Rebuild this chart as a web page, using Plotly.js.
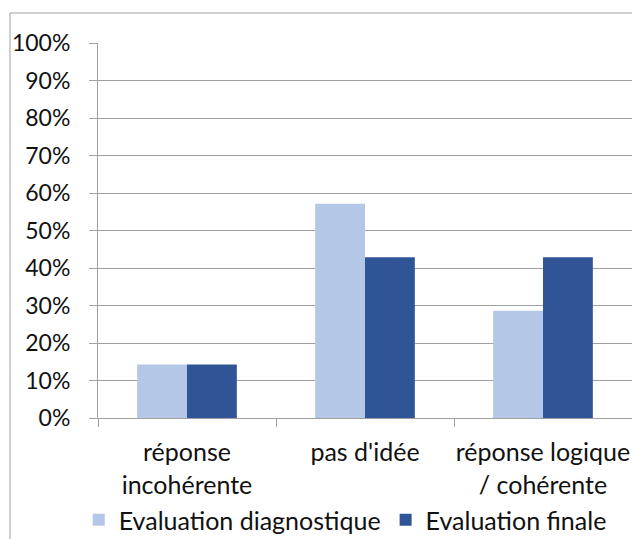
<!DOCTYPE html>
<html>
<head>
<meta charset="utf-8">
<script src="https://cdn.plot.ly/plotly-3.0.1.min.js"></script>
<style>
  html, body { margin: 0; padding: 0; background: #fff; }
</style>
</head>
<body>
<div id="chart" style="width:632px;height:539px;"></div>
<script>
var categories = ['réponse<br>incohérente', "pas d'idée", 'réponse logique<br>/ cohérente'];
var diagnostique = [0.1429, 0.5714, 0.2857];
var finale = [0.1429, 0.4286, 0.4286];
var yTicks = [0, 0.1, 0.2, 0.3, 0.4, 0.5, 0.6, 0.7, 0.8, 0.9, 1];

var gray = '#a0a0a0';
var family = 'Lato, "Open Sans", sans-serif';

var trace1 = {
  x: categories,
  y: diagnostique,
  name: 'Evaluation diagnostique',
  type: 'bar',
  marker: { color: '#b4c7e7' },
  hoverinfo: 'y'
};
var trace2 = {
  x: categories,
  y: finale,
  name: 'Evaluation finale',
  type: 'bar',
  marker: { color: '#2f5597' },
  hoverinfo: 'y'
};

var layout = {
  width: 632,
  height: 539,
  margin: { l: 98, r: 0, t: 43, b: 121, autoexpand: false },
  paper_bgcolor: '#fff',
  plot_bgcolor: '#fff',
  font: { family: family, size: 23, color: '#111' },
  barmode: 'group',
  bargap: 0.44,
  bargroupgap: 0,
  showlegend: true,
  legend: {
    orientation: 'h',
    x: 0.463,
    xanchor: 'center',
    y: -0.272,
    yanchor: 'middle',
    font: { family: family, size: 25, color: '#111' },
    itemclick: false
  },
  xaxis: {
    type: 'category',
    range: [-0.5, 2.5],
    automargin: false,
    showline: true,
    linecolor: gray,
    linewidth: 1,
    ticks: 'outside',
    tickson: 'boundaries',
    ticklen: 8,
    tickcolor: gray,
    tickangle: 0,
    ticklabelstandoff: 12,
    tickfont: { family: family, size: 25, color: '#111' },
    showgrid: false,
    fixedrange: true
  },
  yaxis: {
    range: [0, 1],
    automargin: false,
    tickvals: yTicks,
    tickformat: '.0%',
    showline: true,
    linecolor: gray,
    ticks: 'outside',
    ticklen: 8,
    tickcolor: gray,
    ticklabelstandoff: 14,
    showgrid: true,
    gridcolor: gray,
    zeroline: false,
    fixedrange: true
  },
  shapes: [{
    type: 'rect',
    xref: 'paper', yref: 'paper',
    x0: -0.1648, x1: 1.05, y0: -0.4, y1: 1.08,
    line: { color: gray, width: 1 },
    fillcolor: 'rgba(0,0,0,0)'
  }]
};

Plotly.newPlot('chart', [trace1, trace2], layout, { displayModeBar: false, staticPlot: true });
</script>
</body>
</html>
